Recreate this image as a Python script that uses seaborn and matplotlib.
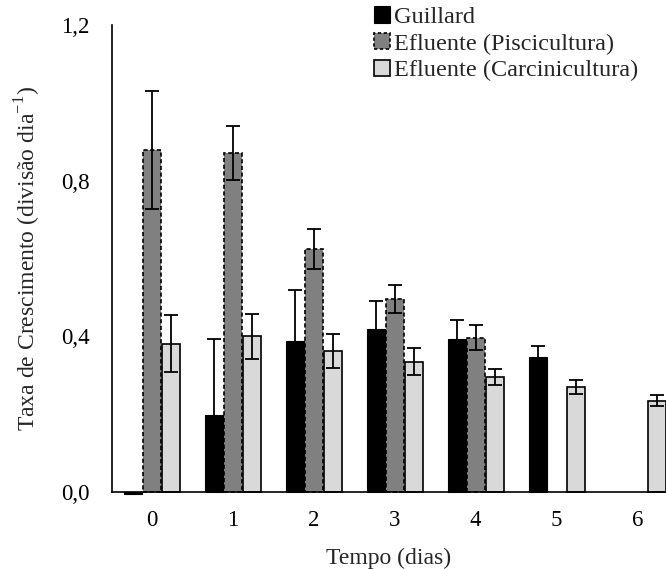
import numpy as np
import pandas as pd
import matplotlib
matplotlib.use("Agg")
import matplotlib.pyplot as plt
import seaborn as sns

# data
days = ["0", "1", "2", "3", "4", "5", "6"]
series = ["Guillard", "Efluente (Piscicultura)", "Efluente (Carcinicultura)"]
guillard = [-0.005, 0.198, 0.389, 0.420, 0.394, 0.348, np.nan]
guillard_err = [0.0, 0.194, 0.130, 0.072, 0.049, 0.028, np.nan]
pisc = [0.879, 0.871, 0.624, 0.497, 0.397, np.nan, np.nan]
pisc_err = [0.152, 0.070, 0.052, 0.036, 0.033, np.nan, np.nan]
carc = [0.381, 0.400, 0.363, 0.335, 0.296, 0.271, 0.235]
carc_err = [0.073, 0.057, 0.044, 0.034, 0.021, 0.018, 0.015]

colors = ["#000000", "#808080", "#d9d9d9"]

df = pd.DataFrame({
    "dia": days * 3,
    "serie": [s for s in series for _ in days],
    "taxa": guillard + pisc + carc,
})
errs = {series[0]: guillard_err, series[1]: pisc_err, series[2]: carc_err}
vals = {series[0]: guillard, series[1]: pisc, series[2]: carc}

sns.set_style("white")
plt.rcParams["font.family"] = ["Liberation Serif", "DejaVu Serif"]

fig = plt.figure(figsize=(6.66, 5.69), dpi=100)
ax = fig.add_axes([112 / 666, 77 / 569, 1 - 112 / 666, 467 / 569])

sns.barplot(data=df, x="dia", y="taxa", hue="serie", order=days, hue_order=series,
            palette=colors, width=0.705, gap=0.06, errorbar=None, saturation=1,
            legend=False, ax=ax)

# style bars and add error bars per series
for cont, s in zip(ax.containers, series):
    y = np.array(vals[s], dtype=float)
    e = np.array(errs[s], dtype=float)
    y_ok = y[~np.isnan(y)]
    e_ok = e[~np.isnan(y)]
    xs = np.array([p.get_x() + p.get_width() / 2 for p in cont.patches])
    for p in cont.patches:
        p.set_clip_on(False)
        p.set_edgecolor("black")
        if s == series[0]:
            p.set_linewidth(0.8)
        elif s == series[1]:
            p.set_linewidth(1.2)
            p.set_linestyle((0, (2.5, 1.5)))
        else:
            p.set_linewidth(1.2)
    m = e_ok > 0
    ax.errorbar(xs[m], y_ok[m], yerr=e_ok[m], fmt="none", ecolor="black",
                elinewidth=1.3, capsize=5, capthick=1.3)

ax.set_xlim(-0.49, 6.35)
ax.set_ylim(0, 1.2)
ax.set_yticks([0, 0.4, 0.8, 1.2])
ax.set_yticklabels(["0,0", "0,4", "0,8", "1,2"])
ax.tick_params(axis="both", length=0, labelsize=16.5, colors="black")
ax.tick_params(axis="x", pad=13)
ax.tick_params(axis="y", pad=16)
for side in ["top", "right"]:
    ax.spines[side].set_visible(False)
for side in ["left", "bottom"]:
    ax.spines[side].set_color("black")
    ax.spines[side].set_linewidth(1.2)

ax.set_xlabel("Tempo (dias)", fontsize=17, labelpad=12)
ax.set_ylabel(r"Taxa de Crescimento (divisão dia$^{\mathregular{-1}}$)", fontsize=17, labelpad=13)

handles = [
    plt.Rectangle((0, 0), 1, 1, facecolor=colors[0], edgecolor="black", linewidth=0.8),
    plt.Rectangle((0, 0), 1, 1, facecolor=colors[1], edgecolor="black", linewidth=1.2,
                  linestyle=(0, (2, 1.5))),
    plt.Rectangle((0, 0), 1, 1, facecolor=colors[2], edgecolor="black", linewidth=1.2),
]
fig.legend(handles, series, loc="upper left", bbox_to_anchor=(372 / 666, 1 - 4 / 569),
           frameon=False, fontsize=17.5, handlelength=0.66, handleheight=0.66,
           handletextpad=0.15, labelspacing=0.2, borderpad=0.1, borderaxespad=0)

fig.savefig("out.png", dpi=100)
